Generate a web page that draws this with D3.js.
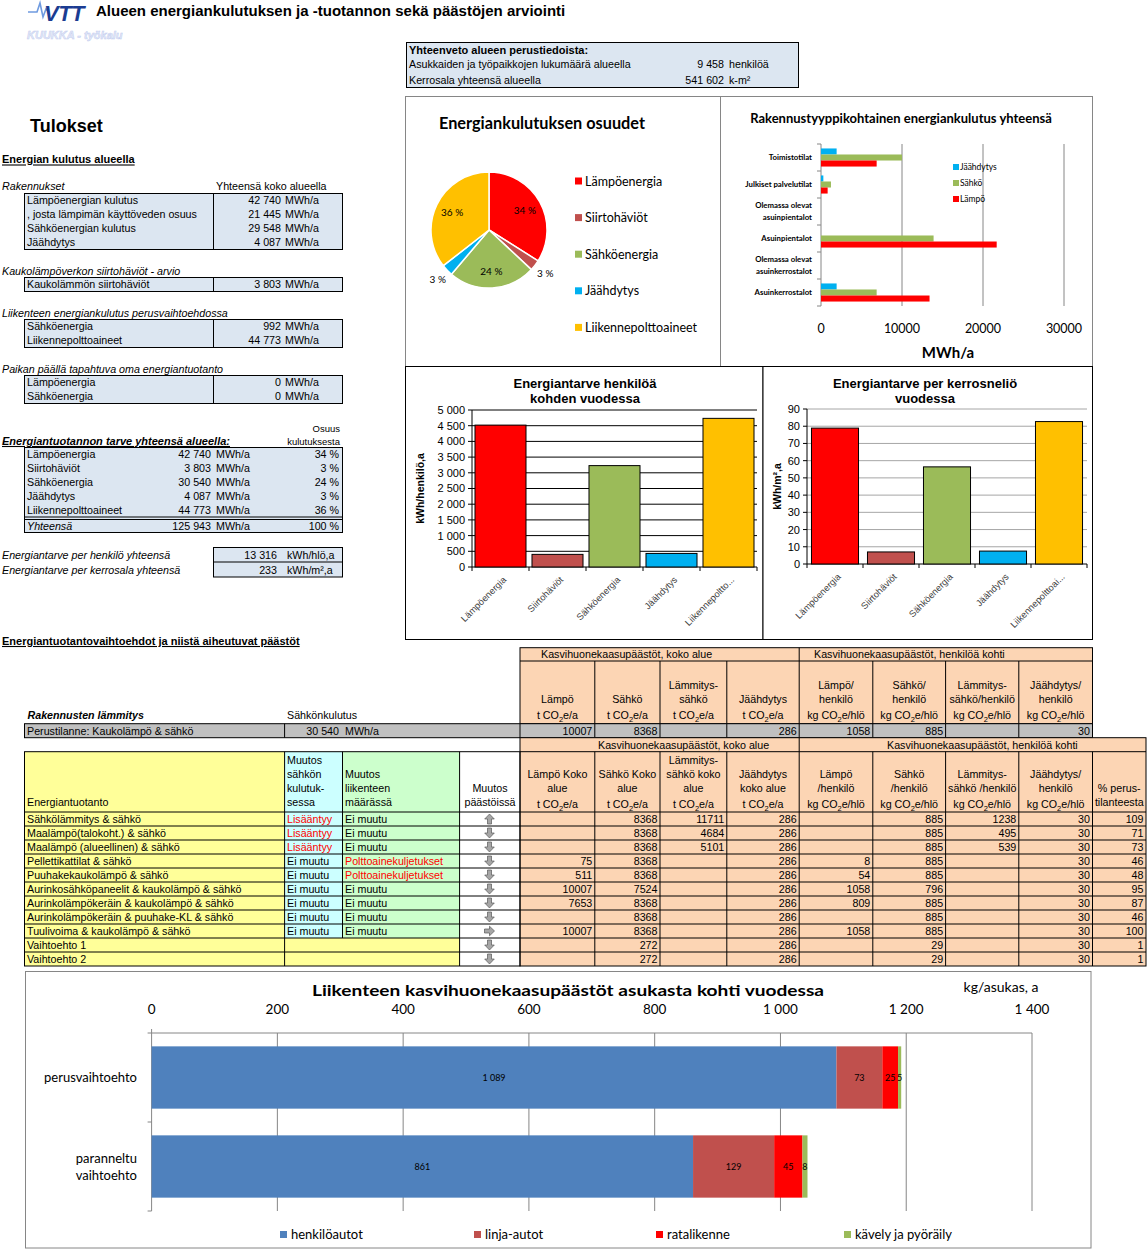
<!DOCTYPE html>
<html>
<head>
<meta charset="utf-8">
<script src="https://cdn.jsdelivr.net/npm/d3@7"></script>
<style>
body { margin: 0; background: #fff; }
svg { display: block; }
</style>
</head>
<body>
<script>

// ---- perustiedot ----
var infoLabels = ["Asukkaiden ja työpaikkojen lukumäärä alueella", "Kerrosala yhteensä alueella"];
var infoValues = [9458, 541602];
var infoUnits = ["henkilöä", "k-m²"];

// ---- energian kulutus alueella ----
var buildingLabels = ["Lämpöenergian kulutus", ", josta lämpimän käyttöveden osuus", "Sähköenergian kulutus", "Jäähdytys"];
var buildingValues = [42740, 21445, 29548, 4087];
var lossLabels = ["Kaukolämmön siirtohäviöt"];
var lossValues = [3803];
var trafficEnergyLabels = ["Sähköenergia", "Liikennepolttoaineet"];
var trafficEnergyValues = [992, 44773];
var ownLabels = ["Lämpöenergia", "Sähköenergia"];
var ownValues = [0, 0];

var demandCats = ["Lämpöenergia", "Siirtohäviöt", "Sähköenergia", "Jäähdytys", "Liikennepolttoaineet"];
var demandValues = [42740, 3803, 30540, 4087, 44773];
var demandShares = [34, 3, 24, 3, 36];
var demandTotal = 125943;
var demandTotalShare = 100;
var perPersonTotal = 13316;
var perAreaTotal = 233;
var demandColors = ["#ff0000", "#c0504d", "#9bbb59", "#00b0f0", "#ffc000"];

// ---- rakennustyypit ----
var buildTypes = ["Toimistotilat", "Julkiset palvelutilat", "Olemassa olevat\nasuinpientalot", "Asuinpientalot", "Olemassa olevat\nasuinkerrostalot", "Asuinkerrostalot"];
var buildSeries = ["Jäähdytys", "Sähkö", "Lämpö"];
var buildCooling = [1930, 290, 0, 0, 0, 1930];
var buildElectricity = [10000, 1230, 0, 13900, 0, 6870];
var buildHeat = [6870, 820, 0, 21690, 0, 13400];
var buildColors = ["#00b0f0", "#9bbb59", "#ff0000"];

// ---- energiantarve ----
var perPersonValues = [4519, 402, 3229, 432, 4734];
var perPersonTicks = ["Lämpöenergia", "Siirtohäviöt", "Sähköenergia", "Jäähdytys", "Liikennepoltto..."];
var perAreaValues = [78.9, 7.0, 56.4, 7.5, 82.7];
var perAreaTicks = ["Lämpöenergia", "Siirtohäviöt", "Sähköenergia", "Jäähdytys", "Liikennepolttoai..."];

// ---- päästötaulukko ----
var baseHeaders = [["Lämpö", "t CO₂e/a"], ["Sähkö", "t CO₂e/a"], ["Lämmitys-", "sähkö", "t CO₂e/a"], ["Jäähdytys", "t CO₂e/a"],
  ["Lämpö/", "henkilö", "kg CO₂e/hlö"], ["Sähkö/", "henkilö", "kg CO₂e/hlö"], ["Lämmitys-", "sähkö/henkilö", "kg CO₂e/hlö"], ["Jäähdytys/", "henkilö", "kg CO₂e/hlö"]];
var scenHeaders = [["Lämpö Koko", "alue", "t CO₂e/a"], ["Sähkö Koko", "alue", "t CO₂e/a"], ["Lämmitys-", "sähkö koko", "alue", "t CO₂e/a"], ["Jäähdytys", "koko alue", "t CO₂e/a"],
  ["Lämpö", "/henkilö", "kg CO₂e/hlö"], ["Sähkö", "/henkilö", "kg CO₂e/hlö"], ["Lämmitys-", "sähkö /henkilö", "kg CO₂e/hlö"], ["Jäähdytys/", "henkilö", "kg CO₂e/hlö"], ["% perus-", "tilanteesta"]];
var baseName = "Perustilanne: Kaukolämpö & sähkö";
var baseElec = 30540;
var baseRow = [10007, 8368, null, 286, 1058, 885, null, 30];
var scenarios = ["Sähkölämmitys & sähkö", "Maalämpö(talokoht.) & sähkö", "Maalämpö (alueellinen) & sähkö", "Pellettikattilat & sähkö",
  "Puuhakekaukolämpö & sähkö", "Aurinkosähköpaneelit & kaukolämpö & sähkö", "Aurinkolämpökeräin & kaukolämpö & sähkö",
  "Aurinkolämpökeräin & puuhake-KL & sähkö", "Tuulivoima & kaukolämpö & sähkö", "Vaihtoehto 1", "Vaihtoehto 2"];
var elecChange = ["Lisääntyy", "Lisääntyy", "Lisääntyy", "Ei muutu", "Ei muutu", "Ei muutu", "Ei muutu", "Ei muutu", "Ei muutu", "", ""];
var trafficChange = ["Ei muutu", "Ei muutu", "Ei muutu", "Polttoainekuljetukset", "Polttoainekuljetukset", "Ei muutu", "Ei muutu", "Ei muutu", "Ei muutu", "", ""];
var emissionArrow = ["up", "down", "down", "down", "down", "down", "down", "down", "right", "down", "down"];
var heatTotal = [null, null, null, 75, 511, 10007, 7653, null, 10007, null, null];
var elecTotal = [8368, 8368, 8368, 8368, 8368, 7524, 8368, 8368, 8368, 272, 272];
var heatElecTotal = [11711, 4684, 5101, null, null, null, null, null, null, null, null];
var coolTotal = [286, 286, 286, 286, 286, 286, 286, 286, 286, 286, 286];
var heatPerPerson = [null, null, null, 8, 54, 1058, 809, null, 1058, null, null];
var elecPerPerson = [885, 885, 885, 885, 885, 796, 885, 885, 885, 29, 29];
var heatElecPerPerson = [1238, 495, 539, null, null, null, null, null, null, null, null];
var coolPerPerson = [30, 30, 30, 30, 30, 30, 30, 30, 30, 30, 30];
var shareOfBase = [109, 71, 73, 46, 48, 95, 87, 46, 100, 1, 1];

// ---- liikenteen päästöt ----
var trafficCats = ["perusvaihtoehto", "paranneltu\nvaihtoehto"];
var trafficModes = ["henkilöautot", "linja-autot", "ratalikenne", "kävely ja pyöräily"];
var trafficCar = [1089, 861];
var trafficBus = [73, 129];
var trafficRail = [25, 45];
var trafficWalk = [5, 8];
var trafficTicks = [0, 200, 400, 600, 800, 1000, 1200, 1400];
var trafficColors = ["#4f81bd", "#c0504d", "#ff0000", "#9bbb59"];

// ================= drawing =================
var W = 1148, H = 1252;
var AR = "'Liberation Sans', Arial, Helvetica, sans-serif";
var CA = "Lato, 'Open Sans', sans-serif";
var loc = d3.formatLocale({decimal: ",", thousands: " ", grouping: [3], currency: ["", ""]});
var fmt = loc.format(",d");

var svg = d3.select("body").append("svg").attr("width", W).attr("height", H);
svg.append("rect").attr("width", W).attr("height", H).attr("fill", "#fff");

function txt(g, x, y, s, o) {
  o = o || {};
  var fs = o.fs || 10.7;
  var t = g.append("text").attr("x", x).attr("y", y).attr("dy", "0.36em")
    .attr("font-family", o.ff || AR).attr("font-size", fs)
    .attr("text-anchor", o.a || "start").attr("fill", o.fill || "#000");
  if (o.b) t.attr("font-weight", "bold");
  if (o.i) t.attr("font-style", "italic");
  if (o.u) t.attr("text-decoration", "underline");
  if (o.tl) t.attr("textLength", o.tl).attr("lengthAdjust", "spacingAndGlyphs");
  String(s).split("₂").forEach(function (p, k) {
    if (k > 0) {
      t.append("tspan").attr("dy", fs * 0.28).attr("font-size", fs * 0.7).text("2");
      t.append("tspan").attr("dy", -fs * 0.28).text(p);
    } else {
      t.append("tspan").text(p);
    }
  });
  return t;
}
function rect(g, x, y, w, h, fill, stroke) {
  return g.append("rect").attr("x", x).attr("y", y).attr("width", w).attr("height", h)
    .attr("fill", fill || "none").attr("stroke", stroke || "none").attr("stroke-width", 1);
}
function line(g, x1, y1, x2, y2, c, w) {
  return g.append("line").attr("x1", x1).attr("y1", y1).attr("x2", x2).attr("y2", y2)
    .attr("stroke", c || "#000").attr("stroke-width", w || 1);
}

// ---- header / logo ----
var hd = svg.append("g");
hd.append("polyline").attr("points", "28,12 37,12 40,3 43,17 46,9 49,12")
  .attr("fill", "none").attr("stroke", "#6f9be0").attr("stroke-width", 1.6);
txt(hd, 44, 13, "VTT", {ff: AR, fs: 22, b: true, i: true, fill: "#1b3c92"}).attr("letter-spacing", -0.5);
txt(hd, 27, 35, "KUUKKA - työkalu", {fs: 11, b: true, i: true, fill: "#e4e9f8"}).attr("stroke", "#c3cdef").attr("stroke-width", 0.5);
txt(hd, 96, 11, "Alueen energiankulutuksen ja -tuotannon sekä päästöjen arviointi", {fs: 15, b: true});

// summary box
var sb = svg.append("g");
rect(sb, 406.5, 42.5, 392, 45, "#dce6f1", "#000");
txt(sb, 409, 50, "Yhteenveto alueen perustiedoista:", {b: true, fs: 11});
infoLabels.forEach(function (l, i) {
  var cy = 64.5 + i * 15.5;
  txt(sb, 409, cy, l);
  txt(sb, 724, cy, fmt(infoValues[i]), {a: "end"});
  txt(sb, 729, cy, infoUnits[i]);
});

// ---- left column ----
var lg = svg.append("g");
var BLUE = "#dce6f1";
txt(lg, 30, 126, "Tulokset", {fs: 18, b: true});
txt(lg, 2, 159.5, "Energian kulutus alueella", {b: true, u: true, fs: 11});

function leftBox(y0, labels, values) {
  var h = labels.length * 14;
  rect(lg, 24.5, y0 + 0.5, 318, h, BLUE, "#000");
  line(lg, 213.5, y0 + 0.5, 213.5, y0 + 0.5 + h);
  labels.forEach(function (l, i) {
    var cy = y0 + 7.5 + 14 * i;
    txt(lg, 27, cy, l);
    txt(lg, 281, cy, fmt(values[i]), {a: "end"});
    txt(lg, 285, cy, "MWh/a");
  });
}
txt(lg, 2, 186.5, "Rakennukset", {i: true});
txt(lg, 216, 186.5, "Yhteensä koko alueella");
leftBox(193, buildingLabels, buildingValues);
txt(lg, 2, 271, "Kaukolämpöverkon siirtohäviöt - arvio", {i: true});
leftBox(277, lossLabels, lossValues);
txt(lg, 2, 313, "Liikenteen energiankulutus perusvaihtoehdossa", {i: true});
leftBox(319, trafficEnergyLabels, trafficEnergyValues);
txt(lg, 2, 369, "Paikan päällä tapahtuva oma energiantuotanto", {i: true});
leftBox(375, ownLabels, ownValues);

txt(lg, 340, 428.5, "Osuus", {a: "end", fs: 9.5});
txt(lg, 340, 441.5, "kulutuksesta", {a: "end", fs: 9.5});
txt(lg, 2, 441, "Energiantuotannon tarve yhteensä alueella:", {b: true, i: true, u: true, fs: 11});
rect(lg, 24.5, 447.5, 318, 85, BLUE, "#000");
demandCats.forEach(function (c, i) {
  var cy = 454.5 + 14 * i;
  txt(lg, 27, cy, c);
  txt(lg, 211, cy, fmt(demandValues[i]), {a: "end"});
  txt(lg, 216, cy, "MWh/a");
  txt(lg, 339, cy, demandShares[i] + " %", {a: "end"});
});
line(lg, 24.5, 517, 342.5, 517);
line(lg, 24.5, 519.5, 342.5, 519.5);
txt(lg, 27, 526.5, "Yhteensä", {i: true});
txt(lg, 211, 526.5, fmt(demandTotal), {a: "end"});
txt(lg, 216, 526.5, "MWh/a");
txt(lg, 339, 526.5, demandTotalShare + " %", {a: "end"});

txt(lg, 2, 555, "Energiantarve per henkilö yhteensä", {i: true});
txt(lg, 2, 570.5, "Energiantarve per kerrosala yhteensä", {i: true});
rect(lg, 213.5, 547.5, 129, 29.5, BLUE, "#000");
line(lg, 213.5, 562, 342.5, 562);
txt(lg, 277, 555, fmt(perPersonTotal), {a: "end"});
txt(lg, 287, 555, "kWh/hlö,a");
txt(lg, 277, 570, fmt(perAreaTotal), {a: "end"});
txt(lg, 287, 570, "kWh/m²,a");

txt(lg, 2, 641, "Energiantuotantovaihtoehdot ja niistä aiheutuvat päästöt", {b: true, u: true, fs: 11});

// ---- chart panels ----
var pg = svg.append("g");
rect(pg, 405.5, 96.5, 315, 270, "#fff", "#868686");
rect(pg, 720.5, 96.5, 372, 270, "#fff", "#868686");
rect(pg, 405.5, 366.5, 357.5, 273, "#fff", "#000");
rect(pg, 763, 366.5, 329.5, 273, "#fff", "#000");

// pie
txt(pg, 542, 123, "Energiankulutuksen osuudet", {ff: CA, fs: 16.3, b: true, a: "middle"});
var pieG = pg.append("g").attr("transform", "translate(489,230)");
var pieData = d3.pie().sort(null)(demandValues);
var arc = d3.arc().innerRadius(0).outerRadius(58);
pieG.selectAll("path").data(pieData).join("path")
  .attr("d", arc).attr("fill", function (d, i) { return demandColors[i]; })
  .attr("stroke", "#fff").attr("stroke-width", 1.5);
pieData.forEach(function (d, i) {
  var a = (d.startAngle + d.endAngle) / 2;
  var r = demandShares[i] < 5 ? 71 : 41;
  txt(pieG, Math.sin(a) * r, -Math.cos(a) * r, demandShares[i] + " %", {ff: CA, fs: 10, a: "middle"});
});
demandCats.forEach(function (c, i) {
  var cy = 181 + i * 36.6;
  rect(pg, 575, cy - 3.5, 7, 7, demandColors[i]);
  txt(pg, 585, cy, c, {ff: CA, fs: 12.5});
});

// building type horizontal bars
txt(pg, 901, 118, "Rakennustyyppikohtainen energiankulutus yhteensä", {ff: CA, fs: 13, b: true, a: "middle"});
var hx = d3.scaleLinear().domain([0, 30000]).range([821, 1064]);
var hy = d3.scaleBand().domain(buildTypes).range([144, 306]).paddingInner(0.33).paddingOuter(0.165);
var hy1 = d3.scaleBand().domain(buildSeries).range([0, hy.bandwidth()]);
var buildBySeries = [buildCooling, buildElectricity, buildHeat];
[10000, 20000, 30000].forEach(function (v) { line(pg, hx(v), 144, hx(v), 306, "#868686"); });
line(pg, 821, 144, 821, 306, "#868686");
d3.range(buildTypes.length + 1).forEach(function (i) {
  var y = 144 + i * hy.step();
  line(pg, 817, y, 821, y, "#868686");
});
buildSeries.forEach(function (s, k) {
  pg.append("g").selectAll("rect").data(buildTypes).join("rect")
    .attr("x", hx(0)).attr("y", function (d) { return hy(d) + hy1(s); })
    .attr("width", function (d, i) { return hx(buildBySeries[k][i]) - hx(0); })
    .attr("height", hy1.bandwidth()).attr("fill", buildColors[k]);
});
buildTypes.forEach(function (c) {
  var lines = c.split("\n");
  var cy = hy(c) + hy.bandwidth() / 2 - (lines.length - 1) * 6;
  lines.forEach(function (l, j) {
    txt(pg, 812, cy + j * 12, l, {ff: CA, fs: 7.8, b: true, a: "end"});
  });
});
hx.ticks(3).forEach(function (v) {
  txt(pg, hx(v), 328, String(v), {ff: CA, fs: 12.5, a: "middle"});
});
txt(pg, 948, 353, "MWh/a", {ff: CA, fs: 15, b: true, a: "middle"});
buildSeries.forEach(function (s, k) {
  var cy = 167 + k * 16;
  rect(pg, 953, cy - 3, 6, 6, buildColors[k]);
  txt(pg, 960, cy, s, {ff: CA, fs: 8.5});
});

// vertical bar charts
function vbars(c) {
  var g = pg.append("g");
  var x = d3.scaleBand().domain(c.ticks).range([c.x0, c.x1]).paddingInner(c.pad).paddingOuter(c.pad / 2);
  var y = d3.scaleLinear().domain([0, c.max]).range([c.yb, c.yt]);
  var tv = d3.range(0, c.max + c.step / 2, c.step);
  tv.forEach(function (v) {
    if (v > 0) line(g, c.x0, y(v), c.x1, y(v), c.grid);
    line(g, c.x0 - 4, y(v), c.x0, y(v));
    txt(g, c.x0 - 7, y(v), c.tf(v), {fs: 11, a: "end", fill: "#000"});
  });
  line(g, c.x0, c.yt, c.x0, c.yb);
  line(g, c.x0, c.yb, c.x1, c.yb);
  d3.range(c.ticks.length + 1).forEach(function (i) {
    var xx = c.x0 + i * x.step();
    line(g, xx, c.yb, xx, c.yb + 4);
  });
  g.selectAll("rect.bar").data(c.values).join("rect").attr("class", "bar")
    .attr("x", function (d, i) { return x(c.ticks[i]); })
    .attr("y", function (d) { return y(d); })
    .attr("width", x.bandwidth())
    .attr("height", function (d) { return y(0) - y(d); })
    .attr("fill", function (d, i) { return demandColors[i]; })
    .attr("stroke", "#000").attr("stroke-width", 1);
  c.ticks.forEach(function (t) {
    var xx = x(t) + x.bandwidth() / 2 + 4;
    txt(g, 0, 0, t, {fs: 9.3, a: "end", fill: "#404040"})
      .attr("transform", "translate(" + xx + "," + (c.yb + 11) + ") rotate(-45)");
  });
  txt(g, 0, 0, c.ylab, {fs: 10.5, b: true, a: "middle"})
    .attr("transform", "translate(" + c.ylx + "," + ((c.yt + c.yb) / 2) + ") rotate(-90)");
  c.title.forEach(function (l, j) {
    txt(g, c.tx, 383 + j * 15.5, l, {fs: 13, b: true, a: "middle"});
  });
}
vbars({x0: 472, x1: 757, yt: 410, yb: 567, max: 5000, step: 500, pad: 0.105, grid: "#000",
  tf: function (v) { return fmt(v); }, ticks: perPersonTicks, values: perPersonValues,
  ylab: "kWh/henkilö,a", ylx: 420, title: ["Energiantarve  henkilöä", "kohden vuodessa"], tx: 585});
vbars({x0: 807, x1: 1087, yt: 409, yb: 564, max: 90, step: 10, pad: 0.16, grid: "#a6a6a6",
  tf: function (v) { return String(v); }, ticks: perAreaTicks, values: perAreaValues,
  ylab: "kWh/m²,a", ylx: 777, title: ["Energiantarve  per kerrosneliö", "vuodessa"], tx: 925});

// ---- emissions table ----
var tg = svg.append("g");
var oc = [520, 594.8, 660, 726.8, 799.2, 872.8, 945.6, 1018.8, 1092.5, 1146];
var ORANGE = "#fcd5b4", GRAY = "#c0c0c0", YEL = "#ffff99", CYAN = "#ccffff", MINT = "#ccffcc";
var rowH = 14, dataTop = 812;

// upper header block
rect(tg, 520, 647.7, oc[8] - 520, 76, ORANGE, "#000");
line(tg, 520, 661, oc[8], 661);
line(tg, oc[4], 647.7, oc[4], 661);
for (var k = 1; k < 8; k++) line(tg, oc[k], 661, oc[k], 723.7);
txt(tg, 541, 654.5, "Kasvihuonekaasupäästöt, koko alue");
txt(tg, 814, 654.5, "Kasvihuonekaasupäästöt, henkilöä kohti");
baseHeaders.forEach(function (h, k) {
  var cx = (oc[k] + oc[k + 1]) / 2;
  var ys = h.length === 3 ? [685, 699, 715] : [699, 715];
  h.forEach(function (l, j) { txt(tg, cx, ys[j], l, {a: "middle"}); });
});
txt(tg, 27.5, 715, "Rakennusten lämmitys", {b: true, i: true});
txt(tg, 287, 715, "Sähkönkulutus");

// base row
rect(tg, 24.5, 723.7, oc[8] - 24.5, 14, GRAY, "#000");
[284.6, 520].concat(oc.slice(1, 8)).forEach(function (xx) { line(tg, xx, 723.7, xx, 737.7); });
txt(tg, 27, 730.7, baseName);
txt(tg, 339, 730.7, fmt(baseElec), {a: "end"});
txt(tg, 345, 730.7, "MWh/a");
baseRow.forEach(function (v, k) {
  if (v !== null) txt(tg, oc[k + 1] - 2.5, 730.7, String(v), {a: "end"});
});

// lower header block
rect(tg, 520, 737.7, oc[9] - 520, 228.3, ORANGE, "#000");
line(tg, 520, 751.7, oc[9], 751.7);
line(tg, oc[4], 737.7, oc[4], 751.7);
for (k = 1; k < 9; k++) line(tg, oc[k], 751.7, oc[k], 966);
txt(tg, 598, 744.7, "Kasvihuonekaasupäästöt, koko alue");
txt(tg, 887, 744.7, "Kasvihuonekaasupäästöt, henkilöä kohti");
scenHeaders.forEach(function (h, k) {
  var cx = (oc[k] + oc[k + 1]) / 2;
  var ys = h.length === 4 ? [760, 774, 788, 804] : h.length === 3 ? [774, 788, 804] : [788, 802];
  h.forEach(function (l, j) { txt(tg, cx, ys[j], l, {a: "middle"}); });
});

// left part of lower table
var nFull = 9;
rect(tg, 24.5, 751.7, 260.1, 214.3, YEL);
rect(tg, 284.6, 751.7, 57.9, 60.3 + nFull * rowH, CYAN);
rect(tg, 342.5, 751.7, 117.1, 60.3 + nFull * rowH, MINT);
rect(tg, 284.6, dataTop + nFull * rowH, 175, (scenarios.length - nFull) * rowH, YEL);
rect(tg, 24.5, 751.7, 495.5, 214.3, "none", "#000");
[284.6, 459.6].forEach(function (xx) { line(tg, xx, 751.7, xx, 966); });
line(tg, 342.5, 751.7, 342.5, dataTop + nFull * rowH);
txt(tg, 27, 802, "Energiantuotanto");
["Muutos", "sähkön", "kulutuk-", "sessa"].forEach(function (l, j) { txt(tg, 287, 760 + j * 14, l); });
["Muutos", "liikenteen", "määrässä"].forEach(function (l, j) { txt(tg, 345, 774 + j * 14, l); });
["Muutos", "päästöissä"].forEach(function (l, j) { txt(tg, 490, 788 + j * 14, l, {a: "middle"}); });

for (k = 0; k < scenarios.length; k++) line(tg, 24.5, dataTop + k * rowH, oc[9], dataTop + k * rowH);

var arrowPath = "M-2,-5 L2,-5 L2,0 L4.8,0 L0,5 L-4.8,0 L-2,0 Z";
var scenCols = [heatTotal, elecTotal, heatElecTotal, coolTotal, heatPerPerson, elecPerPerson, heatElecPerPerson, coolPerPerson, shareOfBase];
scenarios.forEach(function (s, i) {
  var cy = dataTop + i * rowH + 7.5;
  txt(tg, 27, cy, s);
  if (elecChange[i]) txt(tg, 287, cy, elecChange[i], {fill: elecChange[i] === "Lisääntyy" ? "#ff0000" : "#000"});
  if (trafficChange[i]) txt(tg, 345, cy, trafficChange[i], {fill: trafficChange[i] === "Polttoainekuljetukset" ? "#ff0000" : "#000"});
  var rot = emissionArrow[i] === "up" ? 180 : emissionArrow[i] === "right" ? -90 : 0;
  tg.append("path").attr("d", arrowPath)
    .attr("transform", "translate(489.5," + (cy - 0.5) + ") rotate(" + rot + ")")
    .attr("fill", "#a6a6a6").attr("stroke", "#595959").attr("stroke-width", 0.7);
  scenCols.forEach(function (col, k) {
    if (col[i] !== null) txt(tg, oc[k + 1] - 2.5, cy, String(col[i]), {a: "end"});
  });
});

// ---- traffic emissions chart ----
var bg = svg.append("g");
rect(bg, 25.5, 971.5, 1065.5, 276.5, "#fff", "#868686");
txt(bg, 568, 990.5, "Liikenteen kasvihuonekaasupäästöt asukasta kohti vuodessa", {ff: CA, fs: 16, b: true, a: "middle", tl: 512});
txt(bg, 1001, 987, "kg/asukas, a", {ff: CA, fs: 14, a: "middle"});
var tx = d3.scaleLinear().domain([0, 1400]).range([151.6, 1032]);
var ty = d3.scaleBand().domain(trafficCats).range([1033, 1211]).paddingInner(0.3).paddingOuter(0.15);
trafficTicks.forEach(function (v) {
  if (v > 0) line(bg, tx(v), 1033, tx(v), 1211, "#868686");
  txt(bg, tx(v), 1009.5, fmt(v), {ff: CA, fs: 13.5, a: "middle"});
});
line(bg, 151.6, 1033, 1032, 1033, "#868686");
line(bg, 151.6, 1029, 151.6, 1211, "#868686");
d3.range(trafficCats.length + 1).forEach(function (i) {
  var y = 1033 + i * ty.step();
  line(bg, 147.6, y, 151.6, y, "#868686");
});
var trafficRows = trafficCats.map(function (c, i) {
  return {cat: c, "henkilöautot": trafficCar[i], "linja-autot": trafficBus[i], "ratalikenne": trafficRail[i], "kävely ja pyöräily": trafficWalk[i]};
});
var stack = d3.stack().keys(trafficModes)(trafficRows);
stack.forEach(function (layer, k) {
  bg.append("g").selectAll("rect").data(layer).join("rect")
    .attr("x", function (d) { return tx(d[0]); })
    .attr("y", function (d) { return ty(d.data.cat); })
    .attr("width", function (d) { return tx(d[1]) - tx(d[0]); })
    .attr("height", ty.bandwidth())
    .attr("fill", trafficColors[k]);
  layer.forEach(function (d) {
    txt(bg, (tx(d[0]) + tx(d[1])) / 2, ty(d.data.cat) + ty.bandwidth() / 2, fmt(d[1] - d[0]), {ff: CA, fs: 9, a: "middle"});
  });
});
trafficCats.forEach(function (c) {
  var lines = c.split("\n");
  var cy = ty(c) + ty.bandwidth() / 2 - (lines.length - 1) * 8.5;
  lines.forEach(function (l, j) { txt(bg, 137, cy + j * 17, l, {ff: CA, fs: 13, a: "end"}); });
});
var legX = [280, 474, 656, 844];
trafficModes.forEach(function (m, k) {
  rect(bg, legX[k], 1231, 7, 7, trafficColors[k]);
  txt(bg, legX[k] + 11, 1234.5, m, {ff: CA, fs: 13});
});

</script>
</body>
</html>
